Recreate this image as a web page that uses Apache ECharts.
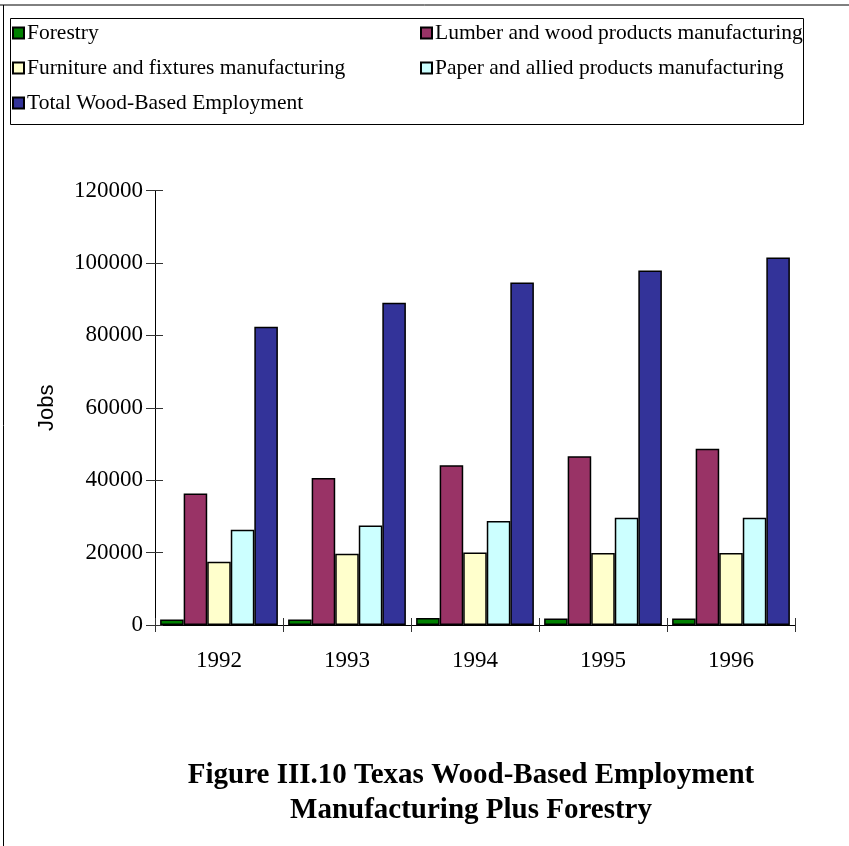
<!DOCTYPE html>
<html>
<head>
<meta charset="utf-8">
<script src="https://cdn.jsdelivr.net/npm/echarts@6/dist/echarts.min.js"></script>
<style>html,body{margin:0;padding:0;background:#fff;}#c{width:849px;height:846px;}</style>
</head>
<body>
<div id="c"></div>
<script>
const years = ['1992', '1993', '1994', '1995', '1996'];
const forestry = [1500, 1500, 1900, 1800, 1800];
const lumber = [36300, 40600, 44100, 46600, 48700];
const furniture = [17500, 19700, 20000, 19900, 19900];
const paper = [26300, 27500, 28700, 29600, 29600];
const total = [82400, 89000, 94600, 97900, 101500];
const yTicks = [0, 20000, 40000, 60000, 80000, 100000, 120000];

const seriesNames = ['Forestry', 'Lumber and wood products manufacturing', 'Furniture and fixtures manufacturing', 'Paper and allied products manufacturing', 'Total Wood-Based Employment'];
const seriesData = [forestry, lumber, furniture, paper, total];
const colors = ['#008000', '#993366', '#FFFFCC', '#CCFFFF', '#333399'];

const serif = '"Liberation Serif", "Times New Roman", serif';
const chart = echarts.init(document.getElementById('c'), null, {renderer: 'canvas'});

const legendCommon = {
  orient: 'vertical', itemWidth: 11, itemHeight: 11, itemGap: 13,
  icon: 'rect', textStyle: {fontFamily: serif, fontSize: 21.5, color: '#000', padding: [0, 0, 0, -2]},
  selectedMode: false
};

chart.setOption({
  animation: false,
  backgroundColor: '#fff',
  title: {
    text: 'Figure III.10 Texas Wood-Based Employment\nManufacturing Plus Forestry',
    left: 466, top: 753, textAlign: 'center',
    textStyle: {fontFamily: serif, fontSize: 29, fontWeight: 'bold', color: '#000', lineHeight: 35}
  },
  legend: [
    Object.assign({left: 7, top: 17, data: [seriesNames[0], seriesNames[2], seriesNames[4]]}, legendCommon),
    Object.assign({left: 415, top: 17, data: [seriesNames[1], seriesNames[3]]}, legendCommon)
  ],
  graphic: [
    {type: 'line', shape: {x1: 0, y1: 5, x2: 849, y2: 5}, style: {stroke: '#000', lineWidth: 1}},
    {type: 'line', shape: {x1: 3.5, y1: 5, x2: 3.5, y2: 846}, style: {stroke: '#000', lineWidth: 1}},
    {type: 'rect', shape: {x: 10.5, y: 18.5, width: 793, height: 106}, style: {fill: null, stroke: '#000', lineWidth: 1}}
  ],
  grid: {left: 155, right: 54, top: 190.5, bottom: 221},
  xAxis: [
    {type: 'category', data: years,
     axisLine: {lineStyle: {color: '#000', width: 1}},
     axisTick: {show: true, length: 7, lineStyle: {color: '#333'}},
     axisLabel: {fontFamily: serif, fontSize: 23, color: '#000', margin: 24}},
    {type: 'category', data: years, position: 'bottom',
     axisLine: {show: false},
     axisTick: {show: true, inside: true, length: 7, lineStyle: {color: '#333'}},
     axisLabel: {show: false}}
  ],
  yAxis: [
    {type: 'value', min: yTicks[0], max: yTicks[yTicks.length - 1], interval: 20000,
     name: 'Jobs', nameLocation: 'middle', nameGap: 97, nameRotate: 90,
     nameTextStyle: {fontFamily: '"Liberation Sans", Arial, sans-serif', fontSize: 22, color: '#000'},
     axisLine: {show: true, lineStyle: {color: '#000', width: 1}},
     axisTick: {show: true, length: 9, lineStyle: {color: '#333'}},
     splitLine: {show: false},
     axisLabel: {fontFamily: serif, fontSize: 23, color: '#000', margin: 12, formatter: v => String(v)}},
    {type: 'value', min: yTicks[0], max: yTicks[yTicks.length - 1], interval: 20000, position: 'left',
     axisLine: {show: false},
     axisTick: {show: true, inside: true, length: 8, lineStyle: {color: '#333'}},
     splitLine: {show: false}, axisLabel: {show: false}}
  ],
  series: seriesNames.map((n, i) => ({
    name: n, type: 'bar', data: seriesData[i],
    barGap: '0%', barCategoryGap: '8%',
    itemStyle: {color: colors[i], borderColor: '#000', borderWidth: 1.5}
  }))
});
</script>
</body>
</html>
